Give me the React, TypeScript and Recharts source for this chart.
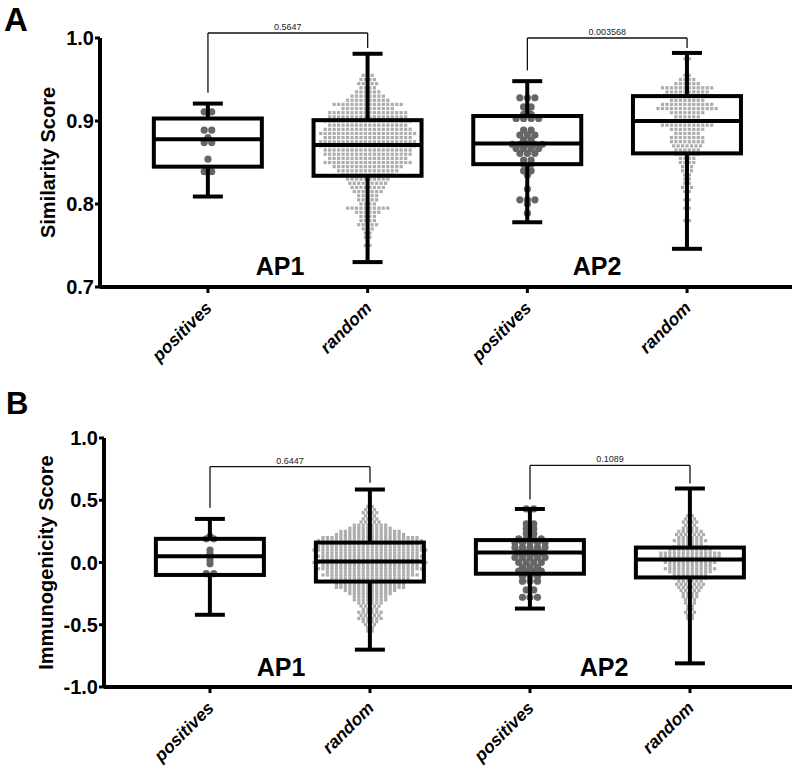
import React from 'react';
import { ComposedChart, XAxis, YAxis, Scatter, Bar, ReferenceLine, ReferenceDot, Label } from 'recharts';

const FONT = '"Liberation Sans", Arial, Helvetica, sans-serif';

// ---------- categories ----------
const categories = ['positives', 'random', 'positives', 'random'];
const groupPositions = [0, 1, 2, 3];
const groupNames = ['AP1', 'AP2'];

// ---------- Panel A: Similarity Score ----------
const simWhiskerLow = [0.809, 0.730, 0.778, 0.746];
const simQ1 = [0.845, 0.834, 0.848, 0.861];
const simMedian = [0.878, 0.871, 0.873, 0.900];
const simQ3 = [0.903, 0.901, 0.906, 0.930];
const simWhiskerHigh = [0.921, 0.981, 0.948, 0.982];

const simAP1PosValues = [0.911, 0.889, 0.880, 0.874, 0.854, 0.839];
const simAP1PosCounts = [2, 2, 1, 2, 1, 2];

const simAP1RandValues = [0.955, 0.950, 0.945, 0.940, 0.935, 0.930, 0.925, 0.920, 0.915, 0.910, 0.905, 0.900, 0.895, 0.890, 0.885, 0.880, 0.875, 0.870, 0.865, 0.860, 0.855, 0.850, 0.845, 0.840, 0.835, 0.830, 0.825, 0.820, 0.815, 0.810, 0.805, 0.800, 0.795, 0.790, 0.785, 0.780, 0.775, 0.770, 0.765, 0.760, 0.755, 0.750, 0.745, 0.740, 0.735];
const simAP1RandCounts = [3, 4, 5, 4, 6, 8, 10, 16, 12, 18, 18, 20, 18, 20, 22, 20, 22, 22, 20, 20, 18, 20, 16, 14, 12, 10, 9, 8, 7, 5, 5, 4, 10, 6, 4, 4, 5, 3, 2, 2, 1, 2, 1, 1, 1];

const simAP2PosValues = [0.928, 0.917, 0.911, 0.908, 0.903, 0.889, 0.883, 0.877, 0.872, 0.867, 0.861, 0.853, 0.848, 0.840, 0.835, 0.818, 0.805, 0.800, 0.789];
const simAP2PosCounts = [3, 2, 1, 2, 4, 2, 3, 2, 5, 4, 3, 2, 2, 2, 1, 1, 3, 1, 1];

const simAP2RandValues = [0.975, 0.970, 0.955, 0.950, 0.945, 0.940, 0.935, 0.930, 0.925, 0.920, 0.915, 0.910, 0.905, 0.900, 0.895, 0.890, 0.885, 0.880, 0.875, 0.870, 0.865, 0.860, 0.855, 0.850, 0.845, 0.840, 0.835, 0.830, 0.825, 0.820, 0.815, 0.805, 0.800, 0.795, 0.790, 0.785, 0.780, 0.770];
const simAP2RandCounts = [2, 1, 2, 4, 6, 12, 10, 8, 8, 12, 14, 8, 6, 6, 12, 8, 6, 8, 8, 7, 6, 6, 4, 4, 3, 3, 2, 2, 2, 3, 2, 2, 1, 2, 1, 1, 2, 1];

const simPValues = ['0.5647', '0.003568'];
const simBracketLevel = [1.006, 1.0];
const simBracketLeftEnd = [0.934, 0.961];
const simBracketRightEnd = [0.988, 0.988];
const simYTicks = [0.7, 0.8, 0.9, 1.0];

// ---------- Panel B: Immunogenicity Score ----------
const immWhiskerLow = [-0.42, -0.70, -0.37, -0.81];
const immQ1 = [-0.10, -0.153, -0.09, -0.12];
const immMedian = [0.05, 0.008, 0.08, 0.024];
const immQ3 = [0.19, 0.16, 0.18, 0.12];
const immWhiskerHigh = [0.35, 0.586, 0.43, 0.595];

const immAP1PosValues = [0.21, 0.19, 0.10, 0.07, 0.02, -0.01, -0.09];
const immAP1PosCounts = [1, 2, 1, 1, 1, 1, 2];

const immAP1RandValues = [0.45, 0.425, 0.40, 0.375, 0.35, 0.325, 0.30, 0.275, 0.25, 0.225, 0.20, 0.175, 0.15, 0.125, 0.10, 0.075, 0.05, 0.025, 0.0, -0.025, -0.05, -0.075, -0.10, -0.125, -0.15, -0.175, -0.20, -0.225, -0.25, -0.275, -0.30, -0.325, -0.35, -0.375, -0.40, -0.425, -0.45, -0.475, -0.50, -0.525, -0.55, -0.575];
const immAP1RandCounts = [2, 3, 4, 3, 4, 5, 8, 10, 14, 16, 22, 24, 22, 24, 26, 22, 24, 22, 26, 22, 24, 20, 22, 18, 20, 16, 16, 12, 10, 8, 8, 6, 5, 4, 6, 5, 6, 4, 3, 2, 2, 1];

const immAP2PosValues = [0.43, 0.31, 0.27, 0.23, 0.19, 0.16, 0.12, 0.08, 0.04, 0.0, -0.04, -0.07, -0.11, -0.15, -0.22, -0.28];
const immAP2PosCounts = [2, 2, 2, 2, 4, 5, 5, 4, 5, 4, 3, 4, 3, 3, 2, 3];

const immAP2RandValues = [0.40, 0.375, 0.35, 0.325, 0.30, 0.275, 0.25, 0.225, 0.20, 0.175, 0.15, 0.125, 0.10, 0.075, 0.05, 0.025, 0.0, -0.025, -0.05, -0.075, -0.10, -0.125, -0.15, -0.175, -0.20, -0.225, -0.25, -0.275, -0.30, -0.325, -0.35, -0.375, -0.40, -0.425, -0.45, -0.475];
const immAP2RandCounts = [1, 2, 3, 4, 3, 4, 6, 7, 6, 8, 6, 8, 10, 14, 14, 12, 12, 10, 12, 10, 8, 8, 6, 7, 6, 5, 4, 4, 3, 3, 2, 2, 3, 2, 2, 1];

const immPValues = ['0.6447', '0.1089'];
const immBracketLevel = [0.77, 0.78];
const immBracketLeftEnd = [0.44, 0.506];
const immBracketRightEnd = [0.64, 0.635];
const immYTicks = [-1.0, -0.5, 0.0, 0.5, 1.0];

// ---------- helpers ----------
type Pt = { x: number; y: number };

const buildSwarm = (center: number, values: number[], counts: number[], spacing: number): Pt[] => {
  const pts: Pt[] = [];
  values.forEach((v, i) => {
    const n = counts[i];
    for (let j = 0; j < n; j++) pts.push({ x: center + (j - (n - 1) / 2) * spacing, y: v });
  });
  return pts;
};

const buildBoxes = (low: number[], q1: number[], med: number[], q3: number[], high: number[]) =>
  groupPositions.map((x, i) => ({ x, low: low[i], q1: q1[i], median: med[i], q3: q3[i], high: high[i] }));

const BOX_HALF = 54;
const CAP_HALF = 15;

const BoxShape = (props: any) => {
  const { x, y, width, height, payload } = props;
  if (!payload || height == null || !isFinite(height)) return null;
  const { low, q1, median, q3, high } = payload;
  const k = height / (high - low);
  const py = (v: number) => y + (high - v) * k;
  const cx = x + width / 2;
  return (
    <g stroke="#000" strokeWidth={4} fill="none">
      <line x1={cx} x2={cx} y1={py(high)} y2={py(q3)} />
      <line x1={cx} x2={cx} y1={py(q1)} y2={py(low)} />
      <line x1={cx - CAP_HALF} x2={cx + CAP_HALF} y1={py(high)} y2={py(high)} />
      <line x1={cx - CAP_HALF} x2={cx + CAP_HALF} y1={py(low)} y2={py(low)} />
      <rect x={cx - BOX_HALF} y={py(q3)} width={BOX_HALF * 2} height={py(q1) - py(q3)} />
      <line x1={cx - BOX_HALF} x2={cx + BOX_HALF} y1={py(median)} y2={py(median)} />
    </g>
  );
};

const CircleShape = (p: any) => <circle cx={p.cx} cy={p.cy} r={3.6} fill="#666666" />;
const SquareShape = (p: any) => (
  <rect x={p.cx - 1.6} y={p.cy - 1.6} width={3.2} height={3.2} fill="#adadad" />
);

const XTick = (props: any) => {
  const { x, y, payload } = props;
  const ax = x + 5;
  const ay = y + 14;
  return (
    <text
      x={ax}
      y={ay}
      transform={`rotate(-45 ${ax} ${ay})`}
      textAnchor="end"
      fontFamily={FONT}
      fontSize={17.5}
      fontWeight={700}
      fontStyle="italic"
      fill="#000"
    >
      {categories[payload.value]}
    </text>
  );
};

type PanelProps = {
  height: number;
  marginTop: number;
  yAxisWidth: number;
  xDomain: [number, number];
  yDomain: [number, number];
  yTicks: number[];
  yLabel: string;
  yLabelDx: number;
  boxes: any[];
  posPoints: Pt[];
  randPoints: Pt[];
  bracketLevel: number[];
  bracketLeft: number[];
  bracketRight: number[];
  pValues: string[];
  groupLabelX: number[];
  groupLabelY: number;
};

const Panel = (p: PanelProps) => {
  const xHeight = p.height - p.marginTop - 249;
  return (
    <ComposedChart
      width={800}
      height={p.height}
      data={p.boxes}
      margin={{ top: p.marginTop, right: 8, bottom: 0, left: 0 }}
    >
      <XAxis
        type="number"
        dataKey="x"
        domain={p.xDomain}
        ticks={groupPositions}
        interval={0}
        allowDataOverflow
        height={xHeight}
        axisLine={{ stroke: '#000', strokeWidth: 4 }}
        tickLine={{ stroke: '#000', strokeWidth: 3 }}
        tickSize={6}
        tickMargin={2}
        tick={<XTick />}
      />
      <YAxis
        type="number"
        domain={p.yDomain}
        ticks={p.yTicks}
        interval={0}
        width={p.yAxisWidth}
        axisLine={{ stroke: '#000', strokeWidth: 4 }}
        tickLine={{ stroke: '#000', strokeWidth: 3 }}
        tickSize={5}
        tickMargin={1}
        tick={{ fill: '#000', fontSize: 20, fontWeight: 700, fontFamily: FONT }}
        tickFormatter={(v: number) => v.toFixed(1)}
        label={
          <Label
            value={p.yLabel}
            angle={-90}
            position="center"
            dx={p.yLabelDx}
            fontSize={20}
            fontWeight={700}
            fill="#000"
            fontFamily={FONT}
          />
        }
      />
      <Scatter data={p.randPoints} dataKey="y" shape={SquareShape} isAnimationActive={false} />
      <Scatter data={p.posPoints} dataKey="y" shape={CircleShape} isAnimationActive={false} />
      <Bar
        dataKey={(d: any) => [d.low, d.high]}
        barSize={108}
        shape={BoxShape}
        isAnimationActive={false}
        zIndex={900}
      />
      {p.pValues.map((pv, i) => {
        const left = groupPositions[i * 2];
        const right = groupPositions[i * 2 + 1];
        const lvl = p.bracketLevel[i];
        return [
          <ReferenceLine
            key={`h${i}`}
            segment={[{ x: left, y: lvl }, { x: right, y: lvl }]}
            stroke="#111"
            strokeWidth={1.3}
            ifOverflow="visible"
            label={{ value: pv, position: 'top', offset: 3, fontSize: 9, fill: '#222', fontFamily: FONT }}
          />,
          <ReferenceLine
            key={`l${i}`}
            segment={[{ x: left, y: lvl }, { x: left, y: p.bracketLeft[i] }]}
            stroke="#111"
            strokeWidth={1.3}
            ifOverflow="visible"
          />,
          <ReferenceLine
            key={`r${i}`}
            segment={[{ x: right, y: lvl }, { x: right, y: p.bracketRight[i] }]}
            stroke="#111"
            strokeWidth={1.3}
            ifOverflow="visible"
          />,
        ];
      })}
      {groupNames.map((g, i) => (
        <ReferenceDot
          key={g}
          x={p.groupLabelX[i]}
          y={p.groupLabelY}
          r={0}
          fill="none"
          stroke="none"
          ifOverflow="visible"
          label={{ value: g, position: 'center', fontSize: 25, fontWeight: 700, fill: '#000', fontFamily: FONT }}
        />
      ))}
    </ComposedChart>
  );
};

const SQ_A = 0.028;
const CI_A = 0.047;

const simBoxes = buildBoxes(simWhiskerLow, simQ1, simMedian, simQ3, simWhiskerHigh);
const immBoxes = buildBoxes(immWhiskerLow, immQ1, immMedian, immQ3, immWhiskerHigh);

const simPos = [
  ...buildSwarm(groupPositions[0], simAP1PosValues, simAP1PosCounts, CI_A),
  ...buildSwarm(groupPositions[2], simAP2PosValues, simAP2PosCounts, CI_A),
];
const simRand = [
  ...buildSwarm(groupPositions[1], simAP1RandValues, simAP1RandCounts, SQ_A),
  ...buildSwarm(groupPositions[3], simAP2RandValues, simAP2RandCounts, SQ_A),
];
const immPos = [
  ...buildSwarm(groupPositions[0], immAP1PosValues, immAP1PosCounts, CI_A),
  ...buildSwarm(groupPositions[2], immAP2PosValues, immAP2PosCounts, CI_A),
];
const immRand = [
  ...buildSwarm(groupPositions[1], immAP1RandValues, immAP1RandCounts, SQ_A),
  ...buildSwarm(groupPositions[3], immAP2RandValues, immAP2RandCounts, SQ_A),
];

export default function App() {
  return (
    <div
      style={{
        position: 'absolute',
        left: 0,
        top: 0,
        width: 800,
        height: 769,
        background: '#fff',
        fontFamily: FONT,
        overflow: 'hidden',
      }}
    >
      <div style={{ position: 'absolute', left: 4, top: 3, fontSize: 33, fontWeight: 700, lineHeight: '33px' }}>A</div>
      <div style={{ position: 'absolute', left: 6, top: 388, fontSize: 31, fontWeight: 700, lineHeight: '31px' }}>B</div>
      <div style={{ position: 'absolute', left: 0, top: 0 }}>
        <Panel
          height={380}
          marginTop={38}
          yAxisWidth={100}
          xDomain={[-0.676, 3.657]}
          yDomain={[0.7, 1.0]}
          yTicks={simYTicks}
          yLabel="Similarity Score"
          yLabelDx={-2}
          boxes={simBoxes}
          posPoints={simPos}
          randPoints={simRand}
          bracketLevel={simBracketLevel}
          bracketLeft={simBracketLeftEnd}
          bracketRight={simBracketRightEnd}
          pValues={simPValues}
          groupLabelX={[0.451, 2.436]}
          groupLabelY={0.7247}
        />
      </div>
      <div style={{ position: 'absolute', left: 0, top: 380 }}>
        <Panel
          height={389}
          marginTop={58}
          yAxisWidth={104}
          xDomain={[-0.6625, 3.6375]}
          yDomain={[-1.0, 1.0]}
          yTicks={immYTicks}
          yLabel="Immunogenicity Score"
          yLabelDx={-6}
          boxes={immBoxes}
          posPoints={immPos}
          randPoints={immRand}
          bracketLevel={immBracketLevel}
          bracketLeft={immBracketLeftEnd}
          bracketRight={immBracketRightEnd}
          pValues={immPValues}
          groupLabelX={[0.444, 2.4625]}
          groupLabelY={-0.839}
        />
      </div>
    </div>
  );
}
